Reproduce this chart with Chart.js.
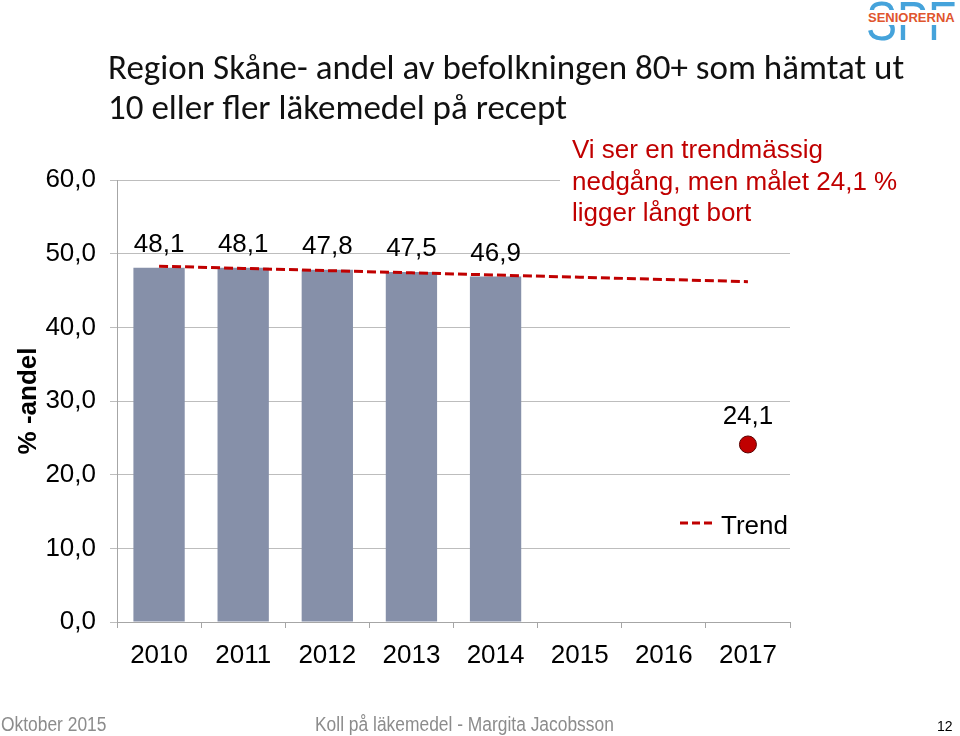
<!DOCTYPE html>
<html>
<head>
<meta charset="utf-8">
<script src="https://cdn.jsdelivr.net/npm/chart.js@4.4.0/dist/chart.umd.min.js"></script>
<style>
  body { margin: 0; background: #fff; }
  #wrap { position: relative; width: 960px; height: 736px; overflow: hidden; }
  #chart { position: absolute; left: 0; top: 0; }
  .txt { position: absolute; white-space: nowrap; }
  #title { left: 108px; top: 47px; font-family: Carlito, Calibri, Lato, sans-serif; font-size: 35px; line-height: 40px; color: #111; }
  #note { left: 560px; top: 134px; padding: 0 0 8px 12px; background: #fff; font-family: Arial, "Liberation Sans", sans-serif; font-size: 26px; line-height: 31.5px; color: #c00000; }
  .foot { top: 713px; font-family: Arial, "Liberation Sans", sans-serif; font-size: 20px; color: #8c8c8c; transform: scaleX(0.87); transform-origin: left top; }
  #page { left: 937px; top: 718px; font-family: Arial, sans-serif; font-size: 14px; color: #000; }
  #logo-spf { left: 866px; top: -11px; font-family: Arial, sans-serif; font-size: 56px; line-height: 64px; color: #45a3db; transform: scaleX(0.83); transform-origin: left top; }
  #logo-sen { left: 867px; top: 10px; padding: 0 1px; font-family: Arial, sans-serif; font-size: 13px; font-weight: bold; color: #e0552d; background: #fff; }
</style>
</head>
<body>
<div id="wrap">
  <canvas id="chart" width="960" height="736"></canvas>
  <div id="logo-spf" class="txt">SPF</div>
  <div id="logo-sen" class="txt">SENIORERNA</div>
  <div id="title" class="txt">Region Skåne- andel av befolkningen 80+ som hämtat ut<br>10 eller fler läkemedel på recept</div>
  <div id="note" class="txt">Vi ser en trendmässig<br>nedgång, men målet 24,1 %<br>ligger långt bort</div>
  <div class="txt foot" style="left:1px">Oktober 2015</div>
  <div class="txt foot" style="left:315px">Koll på läkemedel - Margita Jacobsson</div>
  <div id="page" class="txt">12</div>
</div>
<script>
// Chart data
const years = ['2010', '2011', '2012', '2013', '2014', '2015', '2016', '2017'];
const shares = [48.1, 48.1, 47.8, 47.5, 46.9, null, null, null];
const trendValues = [48.3, 48.0, 47.7, 47.4, 47.1, 46.8, 46.5, 46.2];
const goalValues = [null, null, null, null, null, null, null, 24.1];
const yTicks = [0, 10, 20, 30, 40, 50, 60];

const fmt = v => v.toFixed(1).replace('.', ',');
const FONT = 'Arial, "Liberation Sans", sans-serif';

// value labels above bars and the goal point, plus the trend legend
const labelsPlugin = {
    id: 'labels',
    afterDatasetsDraw(chart) {
        const ctx = chart.ctx;
        ctx.save();
        ctx.font = '26px ' + FONT;
        ctx.fillStyle = '#000';
        ctx.textAlign = 'center';
        ctx.textBaseline = 'alphabetic';
        chart.getDatasetMeta(0).data.forEach((bar, i) => {
            if (shares[i] == null) return;
            ctx.fillText(fmt(shares[i]), bar.x, bar.y - 16);
        });
        chart.getDatasetMeta(2).data.forEach((pt, i) => {
            if (goalValues[i] == null) return;
            ctx.fillText(fmt(goalValues[i]), pt.x, pt.y - 20);
        });

        // legend
        ctx.strokeStyle = '#c00000';
        ctx.lineWidth = 3;
        ctx.setLineDash([8, 4]);
        ctx.beginPath();
        ctx.moveTo(680, 523);
        ctx.lineTo(714, 523);
        ctx.stroke();
        ctx.setLineDash([]);
        ctx.textAlign = 'left';
        ctx.fillText('Trend', 721, 534);
        ctx.restore();
    }
};

const ctx = document.getElementById('chart').getContext('2d');
new Chart(ctx, {
    type: 'bar',
    data: {
        labels: years,
        datasets: [{
            label: 'Andel',
            data: shares,
            backgroundColor: '#8690a9',
            categoryPercentage: 1,
            barPercentage: 0.61,
            order: 3
        }, {
            type: 'line',
            label: 'Trend',
            data: trendValues,
            borderColor: '#c00000',
            borderWidth: 3,
            borderDash: [9, 4],
            pointRadius: 0,
            fill: false,
            order: 1
        }, {
            type: 'line',
            label: 'Mål',
            data: goalValues,
            showLine: false,
            pointRadius: 8.5,
            pointBackgroundColor: '#c00000',
            pointBorderColor: '#5a0000',
            pointBorderWidth: 1,
            order: 0
        }]
    },
    options: {
        responsive: false,
        animation: false,
        layout: { padding: { top: 180, right: 170, bottom: 62, left: 0 } },
        plugins: {
            legend: { display: false },
            tooltip: { enabled: false }
        },
        scales: {
            x: {
                offset: true,
                grid: { drawOnChartArea: false, offset: true, color: '#a6a6a6', tickLength: 6 },
                border: { color: '#a6a6a6', width: 1 },
                ticks: { color: '#000', padding: 12, font: { family: FONT, size: 26 } },
                afterFit(scale) { scale.height = 52; }
            },
            y: {
                min: 0,
                max: 60,
                afterBuildTicks(scale) { scale.ticks = yTicks.map(v => ({ value: v })); },
                grid: { color: '#bdbdbd', tickLength: 7 },
                border: { color: '#a6a6a6', width: 1 },
                ticks: {
                    color: '#000',
                    padding: 14,
                    font: { family: FONT, size: 26 },
                    callback: v => fmt(v)
                },
                title: {
                    display: true,
                    text: '% -andel',
                    color: '#000',
                    padding: { top: 13, bottom: 0 },
                    font: { family: FONT, size: 26, weight: 'bold' }
                },
                afterFit(scale) { scale.width = 117; }
            }
        }
    },
    plugins: [labelsPlugin]
});
</script>
</body>
</html>
